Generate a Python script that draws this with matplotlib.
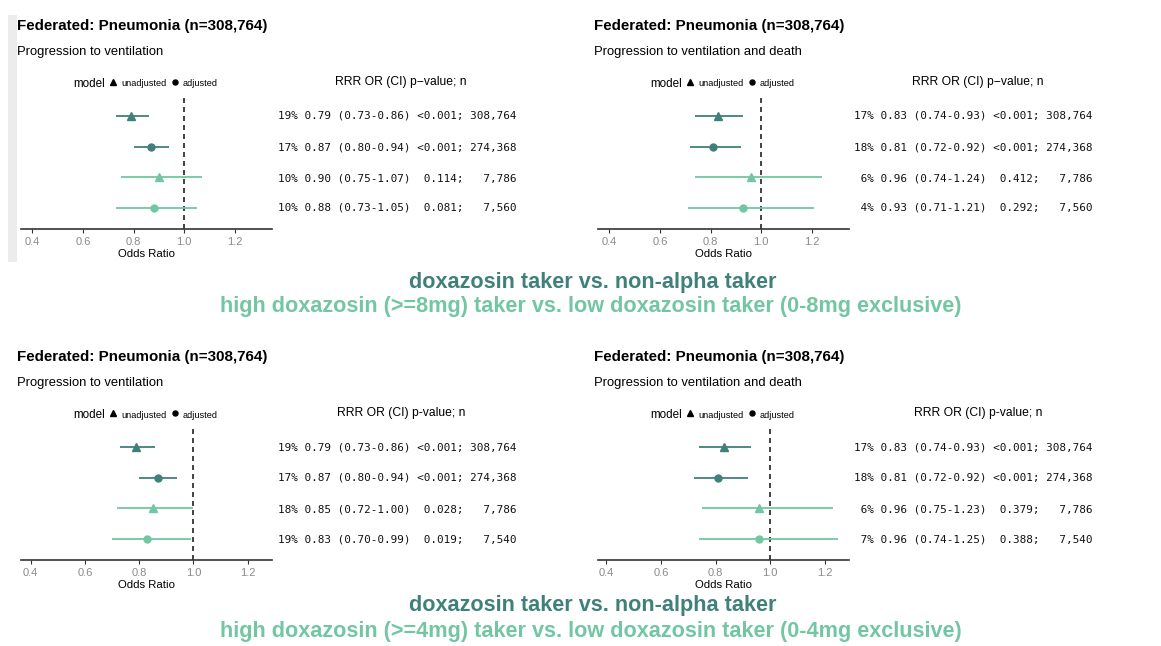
import matplotlib
matplotlib.use("Agg")
import matplotlib.pyplot as plt
from matplotlib.lines import Line2D
from matplotlib.patches import Rectangle

W, H = 1161, 646

# ---------------- data ----------------
titles = ["Federated: Pneumonia (n=308,764)"] * 4
subtitles = ["Progression to ventilation", "Progression to ventilation and death",
             "Progression to ventilation", "Progression to ventilation and death"]
models = ["unadjusted", "adjusted", "unadjusted", "adjusted"]

or_tl = [0.79, 0.87, 0.90, 0.88]
lo_tl = [0.73, 0.80, 0.75, 0.73]
hi_tl = [0.86, 0.94, 1.07, 1.05]
rrr_tl = [19, 17, 10, 10]
p_tl = ["<0.001", "<0.001", "0.114", "0.081"]
n_tl = [308764, 274368, 7786, 7560]

or_tr = [0.83, 0.81, 0.96, 0.93]
lo_tr = [0.74, 0.72, 0.74, 0.71]
hi_tr = [0.93, 0.92, 1.24, 1.21]
rrr_tr = [17, 18, 6, 4]
p_tr = ["<0.001", "<0.001", "0.412", "0.292"]
n_tr = [308764, 274368, 7786, 7560]

or_bl = [0.79, 0.87, 0.85, 0.83]
lo_bl = [0.73, 0.80, 0.72, 0.70]
hi_bl = [0.86, 0.94, 1.00, 0.99]
rrr_bl = [19, 17, 18, 19]
p_bl = ["<0.001", "<0.001", "0.028", "0.019"]
n_bl = [308764, 274368, 7786, 7540]

or_br = [0.83, 0.81, 0.96, 0.96]
lo_br = [0.74, 0.72, 0.75, 0.74]
hi_br = [0.93, 0.92, 1.23, 1.25]
rrr_br = [17, 18, 6, 7]
p_br = ["<0.001", "<0.001", "0.379", "0.388"]
n_br = [308764, 274368, 7786, 7540]

xticks = [0.4, 0.6, 0.8, 1.0, 1.2]
header_top = "RRR OR (CI) p\u2212value; n"
header_bot = "RRR OR (CI) p-value; n"
compare_main = "doxazosin taker vs. non-alpha taker"
compare_top = "high doxazosin (>=8mg) taker vs. low doxazosin taker (0-8mg exclusive)"
compare_bot = "high doxazosin (>=4mg) taker vs. low doxazosin taker (0-4mg exclusive)"

# ---------------- style ----------------
DARK = "#3f817a"
LIGHT = "#72c7a2"
row_colors = [DARK, DARK, LIGHT, LIGHT]
marker_of = {"unadjusted": "^", "adjusted": "o"}
msize_of = {"unadjusted": 6.0, "adjusted": 5.0}
SANS = ["Liberation Sans", "DejaVu Sans"]
MONO = ["DejaVu Sans Mono"]

fig = plt.figure(figsize=(W / 100, H / 100), dpi=100)
fig.patch.set_facecolor("white")


def fx(px):
    return px / W


def fy(py):
    return 1 - py / H


# light gray strip on the left of the first panel
fig.patches.append(Rectangle((fx(8), fy(262)), fx(9), (262 - 15) / H,
                             transform=fig.transFigure, facecolor="#ececec",
                             edgecolor="none", zorder=0))

panels = [
    (0, 0, or_tl, lo_tl, hi_tl, rrr_tl, p_tl, n_tl, (0.355, 1.347), header_top),
    (577, 0, or_tr, lo_tr, hi_tr, rrr_tr, p_tr, n_tr, (0.355, 1.347), header_top),
    (0, 331, or_bl, lo_bl, hi_bl, rrr_bl, p_bl, n_bl, (0.365, 1.289), header_bot),
    (577, 331, or_br, lo_br, hi_br, rrr_br, p_br, n_br, (0.369, 1.289), header_bot),
]

for i, (ox, oy, ors, los, his, rrrs, ps, ns, xl, header) in enumerate(panels):
    # titles
    fig.text(fx(ox + 17), fy(oy + 26), titles[i], family=SANS, weight="bold",
             fontsize=10.9, ha="left", va="center", color="black")
    fig.text(fx(ox + 17), fy(oy + 52), subtitles[i], family=SANS,
             fontsize=9.4, ha="left", va="center", color="black")

    # forest axes
    ax = fig.add_axes([fx(ox + 21), fy(oy + 229), (272 - 21) / W, (229 - 97) / H])
    ax.set_xlim(*xl)
    ax.set_ylim(0.32, 4.62)
    ypos = [4, 3, 2, 1]
    for k in range(4):
        ax.plot([los[k], his[k]], [ypos[k], ypos[k]], color=row_colors[k],
                lw=1.3, solid_capstyle="butt", zorder=2)
        ax.plot([ors[k]], [ypos[k]], marker=marker_of[models[k]],
                color=row_colors[k], markersize=msize_of[models[k]],
                linestyle="none", zorder=3)
    ax.axvline(1.0, color="#222222", lw=1.2, ls=(0, (3.0, 2.4)), zorder=1)
    for s in ["top", "right", "left"]:
        ax.spines[s].set_visible(False)
    ax.spines["bottom"].set_color("#333333")
    ax.spines["bottom"].set_linewidth(1.2)
    ax.set_yticks([])
    ax.set_xticks(xticks)
    ax.set_xticklabels([f"{t:.1f}" for t in xticks], family=SANS)
    ax.tick_params(axis="x", length=3, width=0.8, color="#333333",
                   labelcolor="#8a8a8a", labelsize=8, pad=2.5)
    ax.set_xlabel("Odds Ratio", family=SANS, fontsize=8.2, labelpad=2)
    ax.patch.set_alpha(0)

    # legend
    ly = fy(oy + 84)
    fig.text(fx(ox + 105), ly, "model", family=SANS, fontsize=8.4,
             ha="right", va="center")
    fig.add_artist(Line2D([fx(ox + 113)], [ly + 2 / H], marker="^", color="black",
                          markersize=4.0, linestyle="none", transform=fig.transFigure))
    fig.text(fx(ox + 121), ly, "unadjusted", family=SANS, fontsize=6.6,
             ha="left", va="center")
    fig.add_artist(Line2D([fx(ox + 175)], [ly + 2 / H], marker="o", color="black",
                          markersize=3.6, linestyle="none", transform=fig.transFigure))
    fig.text(fx(ox + 183), ly, "adjusted", family=SANS, fontsize=6.6,
             ha="left", va="center")

    # table
    fig.text(fx(ox + 401), fy(oy + 82), header, family=SANS, fontsize=8.7,
             ha="center", va="center")
    for k in range(4):
        p_str = ps[k] + ";"
        line = f"{rrrs[k]:>2d}% {ors[k]:.2f} ({los[k]:.2f}-{his[k]:.2f}) {p_str:>7s} {ns[k]:>7,d}"
        fig.text(fx(ox + 516), fy(oy + [116, 147, 178, 208][k]), line,
                 family=MONO, fontsize=7.9, ha="right", va="center", color="#111111")

# comparison captions
fig.text(fx(593), fy(283), compare_main, family=SANS, weight="bold",
         fontsize=15.6, color=DARK, ha="center", va="center")
fig.text(fx(591), fy(307), compare_top, family=SANS, weight="bold",
         fontsize=15.6, color=LIGHT, ha="center", va="center")
fig.text(fx(593), fy(606), compare_main, family=SANS, weight="bold",
         fontsize=15.6, color=DARK, ha="center", va="center")
fig.text(fx(591), fy(632), compare_bot, family=SANS, weight="bold",
         fontsize=15.6, color=LIGHT, ha="center", va="center")

fig.savefig("out.png", dpi=100, facecolor="white")
